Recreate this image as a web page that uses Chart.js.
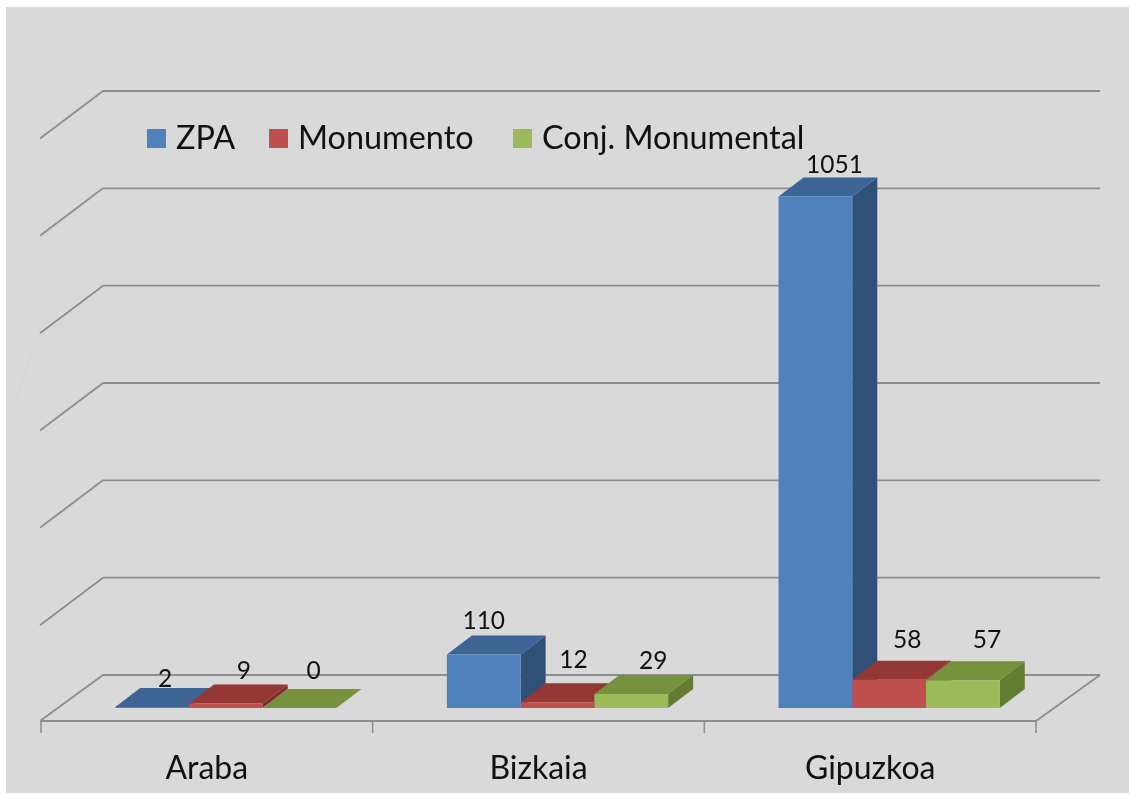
<!DOCTYPE html>
<html>
<head>
<meta charset="utf-8">
<style>html,body{margin:0;padding:0;background:#fff}canvas{display:block;filter:blur(0.45px)}</style>
<script src="https://cdn.jsdelivr.net/npm/chart.js@4/dist/chart.umd.min.js"></script>
</head>
<body>
<canvas id="c" width="1129" height="794"></canvas>
<script>
const categories = ['Araba', 'Bizkaia', 'Gipuzkoa'];
const seriesNames = ['ZPA', 'Monumento', 'Conj. Monumental'];
const zpa = [2, 110, 1051];
const monumento = [9, 12, 58];
const conjMonumental = [0, 29, 57];
const yTicksMax = 1200;
const yTickStep = 200;

const frontColors = ['#4F81BD', '#C0504D', '#9BBB59'];
const topColors = ['#3C6494', '#953735', '#76923C'];
const sideColors = ['#2F5178', '#7F2E2C', '#637C32'];
const FONT = 'Lato, Carlito, sans-serif';
const TEXT = '#111111';
const GRID = '#8E8E8E';

const BAR_DEPTH = {x: 25, y: 19};
const WALL_DEPTH = {x: 62, y: 46};
const FLOOR_SHIFT = {x: 19, y: 13};
// label offset from the front-top centre of each bar [series][category]
const labelNudge = [
  [[13, -28], [0, -33], [19, -31]],
  [[18, -33], [16, -42], [18, -40]],
  [[14, -37], [22, -33], [24, -40]]
];

function line(ctx, pts, color, w) {
  ctx.save();
  ctx.strokeStyle = color; ctx.lineWidth = w; ctx.lineJoin = 'round';
  ctx.beginPath();
  pts.forEach((p, i) => i ? ctx.lineTo(p[0], p[1]) : ctx.moveTo(p[0], p[1]));
  ctx.stroke();
  ctx.restore();
}
function quad(ctx, pts, color) {
  ctx.fillStyle = color;
  ctx.beginPath();
  pts.forEach((p, i) => i ? ctx.lineTo(p[0], p[1]) : ctx.moveTo(p[0], p[1]));
  ctx.closePath();
  ctx.fill();
}

const scene3d = {
  id: 'scene3d',
  beforeDraw(chart) {
    const ctx = chart.ctx;
    ctx.save();
    ctx.fillStyle = '#D9D9D9';
    ctx.fillRect(6, 7, chart.width - 6, chart.height - 8);
    ctx.restore();
  },
  beforeDatasetsDraw(chart) {
    const ctx = chart.ctx, x = chart.scales.x, y = chart.scales.y;
    const left = x.left - FLOOR_SHIFT.x, right = x.right - FLOOR_SHIFT.x;
    // faint construction lines
    line(ctx, [[40, 333], [15, 400]], '#D4D4D4', 1);
    line(ctx, [[right, 735], [right + 34, 785]], '#D4D4D4', 1);
    // walls
    y.ticks.forEach(t => {
      const py = y.getPixelForValue(t.value) + FLOOR_SHIFT.y;
      const front = t.value === 0 ? py : py + 1.5;
      line(ctx, [[left - 1, front], [left + WALL_DEPTH.x, py - WALL_DEPTH.y], [right + WALL_DEPTH.x + 2, py - WALL_DEPTH.y]], GRID, 1.8);
    });
    // floor
    const fy = y.getPixelForValue(0) + FLOOR_SHIFT.y;
    line(ctx, [[left, fy], [right, fy], [right + WALL_DEPTH.x + 2, fy - WALL_DEPTH.y]], GRID, 1.8);
    const step = (right - left) / categories.length;
    for (let i = 0; i <= categories.length; i++) {
      const tx = left + i * step;
      line(ctx, [[tx, fy], [tx, fy + 12]], GRID, 1.6);
    }
    // bar depth faces, left to right
    for (let c = 0; c < categories.length; c++) {
      for (let d = 0; d < chart.data.datasets.length; d++) {
        const b = chart.getDatasetMeta(d).data[c];
        const l = b.x - b.width / 2, r = b.x + b.width / 2, t = b.y, base = b.base;
        const dx = BAR_DEPTH.x, dy = BAR_DEPTH.y;
        quad(ctx, [[r, base], [r, t], [r + dx, t - dy], [r + dx, base - dy]], sideColors[d]);
        quad(ctx, [[l, t], [r, t], [r + dx, t - dy], [l + dx, t - dy]], topColors[d]);
      }
    }
  },
  afterDatasetsDraw(chart) {
    const ctx = chart.ctx;
    ctx.save();
    ctx.font = '24.5px ' + FONT;
    ctx.fillStyle = TEXT;
    ctx.textAlign = 'center';
    ctx.textBaseline = 'middle';
    chart.data.datasets.forEach((ds, d) => {
      chart.getDatasetMeta(d).data.forEach((b, c) => {
        const n = labelNudge[d][c];
        ctx.fillText(String(ds.data[c]), b.x + n[0], b.y + n[1]);
      });
    });
    ctx.restore();
  },
  afterDraw(chart) {
    const ctx = chart.ctx;
    const swatchX = [147, 269, 513];
    const textX = [176, 298, 542];
    ctx.save();
    ctx.font = '32.4px ' + FONT;
    ctx.textBaseline = 'middle';
    ctx.textAlign = 'left';
    chart.data.datasets.forEach((ds, d) => {
      ctx.fillStyle = frontColors[d];
      ctx.fillRect(swatchX[d], 129, 19, 19);
      ctx.fillStyle = TEXT;
      ctx.fillText(ds.label, textX[d], 139);
    });
    ctx.restore();
  }
};

new Chart(document.getElementById('c'), {
  type: 'bar',
  data: {
    labels: categories,
    datasets: [zpa, monumento, conjMonumental].map((vals, i) => ({
      label: seriesNames[i],
      data: vals,
      backgroundColor: frontColors[i],
      borderWidth: 0,
      categoryPercentage: 0.667,
      barPercentage: 1
    }))
  },
  options: {
    responsive: false,
    animation: false,
    layout: {padding: {left: 60, right: 74, top: 124, bottom: 0}},
    plugins: {legend: {display: false}, tooltip: {enabled: false}},
    scales: {
      x: {
        grid: {display: false, drawTicks: false},
        border: {display: false},
        afterFit(s) { s.height = 86; },
        ticks: {
          padding: 41,
          labelOffset: -19,
          maxRotation: 0,
          color: TEXT,
          font: {family: FONT, size: 32}
        }
      },
      y: {
        min: 0,
        max: yTicksMax,
        afterFit(s) { s.width = 0; },
        grid: {display: false, drawTicks: false},
        border: {display: false},
        ticks: {display: false, stepSize: yTickStep}
      }
    }
  },
  plugins: [scene3d]
});
</script>
</body>
</html>
